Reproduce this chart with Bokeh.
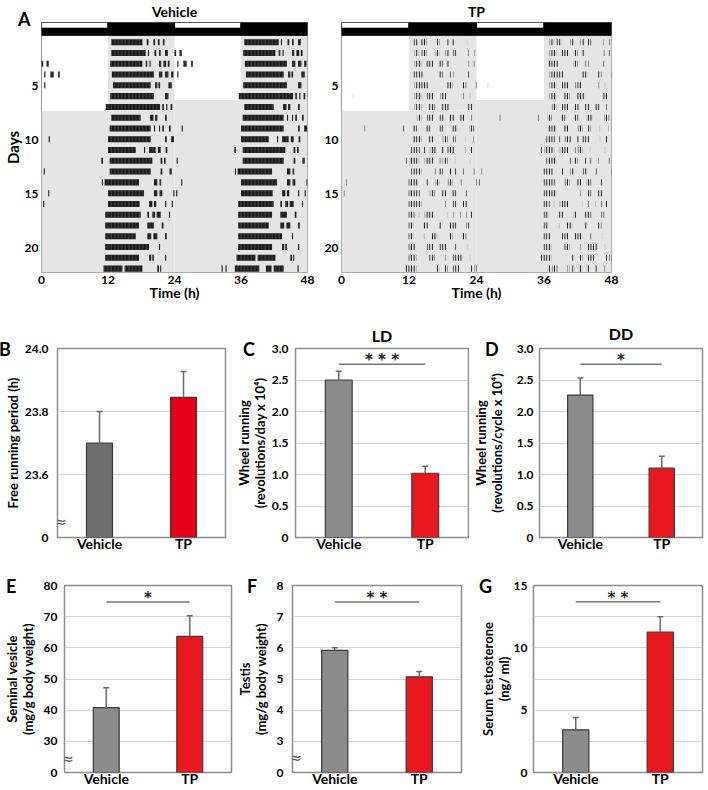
from bokeh.plotting import figure
from bokeh.layouts import row, column
from bokeh.models import (Range1d, FactorRange, FixedTicker, Label, Title,
                          ColumnDataSource, Whisker, TeeHead)
from bokeh.embed import file_html
from bokeh.resources import INLINE

# ---------------------------------------------------------------- data
groups = ["Vehicle", "TP"]

period_mean = [23.70, 23.845]
period_sem = [0.100, 0.082]
ld_mean = [2.50, 1.02]
ld_sem = [0.14, 0.11]
dd_mean = [2.26, 1.10]
dd_sem = [0.27, 0.19]
sv_mean = [40.8, 63.7]
sv_sem = [6.4, 6.6]
testis_mean = [5.92, 5.07]
testis_sem = [0.08, 0.17]
testo_mean = [3.42, 11.27]
testo_sem = [1.00, 1.23]

ld_sig = ("* * *", 2.75)
dd_sig = ("*", 2.75)
sv_sig = ("*", 74.7)
testis_sig = ("* *", 7.47)
testo_sig = ("* *", 13.7)

period_ticks = [23.4, 23.6, 23.8, 24.0]
wheel_ticks = [0, 0.5, 1.0, 1.5, 2.0, 2.5, 3.0]
sv_ticks = [20, 30, 40, 50, 60, 70, 80]
testis_ticks = [2, 3, 4, 5, 6, 7, 8]
testo_ticks = [0, 5, 10, 15]

# actogram: activity bouts (start h, end h) per day, days 1..23
N_ROWS = 22
LD_DAYS = 7
LIGHTS_OFF = 12
day_ticks = [5, 10, 15, 20]
time_ticks = [0, 12, 24, 36, 48]

veh_bouts = [
    [(12.6, 18.2), (19.0, 19.3), (20.2, 20.5), (21.0, 21.3), (21.9, 22.2)],
    [(12.6, 18.8), (19.2, 19.4), (20.4, 20.7), (21.2, 21.5), (22.3, 22.8)],
    [(0.0, 0.3), (0.9, 1.3), (12.4, 18.2), (18.8, 19.1), (19.5, 19.7), (21.2, 21.6), (22.0, 22.5), (22.8, 23.1)],
    [(0.5, 0.7), (1.6, 2.2), (3.0, 3.3), (12.7, 20.3), (21.2, 21.8), (22.3, 22.9), (23.4, 23.8)],
    [(0.5, 0.7), (12.9, 19.7), (20.5, 20.9), (21.1, 21.4), (22.9, 23.5)],
    [(12.4, 20.3), (22.3, 22.9)],
    [(11.6, 21.4), (21.8, 22.1), (22.5, 22.7), (23.3, 23.6)],
    [(12.6, 17.9), (19.6, 20.2), (20.5, 20.9), (22.3, 22.6)],
    [(12.3, 19.7), (20.3, 20.5), (21.2, 21.4), (21.8, 22.1), (23.0, 23.3)],
    [(1.3, 1.5), (12.0, 19.7), (22.3, 22.6), (23.4, 23.9)],
    [(12.0, 17.0), (18.5, 18.7), (19.4, 20.6), (21.0, 21.5), (22.4, 22.7)],
    [(10.8, 11.1), (12.3, 20.0), (21.5, 21.8), (22.1, 22.4)],
    [(0.4, 0.6), (12.3, 19.7), (21.5, 21.8), (23.1, 23.5)],
    [(10.9, 11.1), (11.4, 17.6), (20.3, 20.9), (21.3, 21.6)],
    [(1.2, 1.4), (12.0, 18.5), (20.3, 20.9), (21.3, 21.8), (23.8, 24.0)],
    [(0.3, 0.5), (12.0, 17.7), (19.4, 20.0), (20.3, 20.7), (22.3, 22.5), (23.5, 23.7)],
    [(11.5, 17.9), (19.1, 19.4), (20.0, 20.5), (20.8, 21.5), (23.0, 23.2)],
    [(11.5, 17.6), (19.1, 20.3), (21.7, 22.0)],
    [(11.5, 17.0), (19.1, 19.8), (20.2, 20.9), (22.3, 22.6)],
    [(11.5, 19.4), (21.2, 21.4)],
    [(11.5, 17.6), (19.4, 19.8), (20.0, 20.3), (22.3, 22.5)],
    [(11.2, 14.6), (15.0, 18.2), (20.9, 21.2), (21.4, 21.6)],
    [(8.5, 8.7), (9.2, 9.4), (10.9, 15.3), (16.5, 17.5), (17.9, 19.7), (22.2, 22.4)],
]

tp_bouts = [
    [(12.8, 13.6), (14.0, 15.2), (17.0, 17.5), (18.7, 19.1), (19.5, 20.1), (22.3, 22.5)],
    [(13.0, 13.8), (14.2, 15.2), (16.7, 17.4), (18.5, 19.2), (19.8, 20.4), (22.4, 22.6), (23.6, 23.9)],
    [(13.0, 14.2), (15.0, 16.4), (17.3, 18.0), (18.6, 19.2), (22.6, 22.8), (23.5, 23.7)],
    [(12.8, 14.5), (17.2, 18.0), (19.2, 19.4), (19.9, 20.1), (22.5, 22.7)],
    [(13.0, 15.4), (18.6, 19.8), (21.6, 22.2), (23.8, 24.0)],
    [(2.0, 2.2), (13.0, 14.2), (15.2, 16.3), (17.6, 18.6), (21.7, 21.9), (22.8, 23.0)],
    [(13.0, 14.2), (15.4, 16.6), (17.7, 19.2), (22.4, 23.3)],
    [(13.4, 14.2), (15.2, 16.3), (17.4, 18.3), (19.2, 20.1), (21.0, 21.9), (23.1, 23.3)],
    [(4.1, 4.3), (10.9, 11.1), (12.6, 13.4), (15.0, 15.8), (17.4, 18.1), (19.5, 20.7), (22.7, 23.6)],
    [(12.6, 14.2), (15.4, 16.4), (18.0, 18.9), (19.8, 20.3), (21.8, 22.0), (23.3, 23.5)],
    [(12.4, 13.9), (14.7, 14.9), (15.7, 16.8), (17.7, 18.2), (18.8, 20.1), (21.9, 22.1), (23.0, 23.2)],
    [(11.4, 11.6), (12.1, 13.8), (14.8, 16.3), (17.4, 17.6), (18.0, 18.9), (20.0, 20.2), (22.8, 23.0)],
    [(12.4, 14.2), (16.6, 16.8), (17.3, 18.0), (19.2, 19.5), (20.0, 20.4), (21.5, 21.7), (23.5, 23.7)],
    [(0.9, 1.1), (11.9, 13.6), (15.1, 15.4), (16.7, 17.4), (18.9, 19.8), (21.2, 21.4), (23.9, 24.0)],
    [(0.4, 0.6), (11.9, 13.9), (15.7, 16.6), (17.7, 18.6), (19.5, 20.4), (22.1, 22.3)],
    [(11.9, 14.2), (18.5, 18.7), (19.8, 20.4), (21.6, 22.4)],
    [(11.9, 13.0), (13.6, 13.8), (14.8, 16.3), (18.6, 18.8), (19.9, 20.1), (21.0, 21.2), (22.2, 22.4), (23.0, 23.2)],
    [(11.9, 12.8), (14.5, 15.4), (17.2, 17.7), (19.2, 20.4), (22.2, 22.7)],
    [(11.9, 12.8), (14.5, 14.7), (16.0, 17.0), (19.2, 19.8), (21.6, 22.2)],
    [(11.9, 13.2), (15.2, 16.3), (17.4, 18.6), (20.2, 20.4), (22.3, 22.5)],
    [(11.9, 13.3), (15.6, 16.6), (18.5, 18.7), (19.8, 21.6), (22.8, 23.0)],
    [(11.3, 13.3), (16.9, 17.4), (18.3, 18.9), (19.8, 21.0), (23.0, 23.2), (23.6, 24.0)],
    [(12.6, 13.2), (13.4, 14.4), (16.2, 16.6), (17.0, 17.5), (18.2, 18.8), (19.5, 20.1), (21.0, 21.4), (22.7, 23.0)],
]

# ---------------------------------------------------------------- layout helpers
FONT = "Lato"
EM = 1.2  # title text box height per font px


def make_fig(canvas, frame, **kw):
    cl, ct, cr, cb = canvas
    fl, ft, fr, fb = frame
    p = figure(width=round(cr - cl), height=round(cb - ct),
               min_border_left=round(fl - cl), min_border_right=round(cr - fr),
               min_border_top=round(ft - ct), min_border_bottom=round(cb - fb),
               output_backend="svg", toolbar_location=None, title=None, **kw)
    p.background_fill_color = "white"
    p.border_fill_color = "white"
    return p


def style_axis(ax, tick_size, label_size):
    ax.axis_line_color = None
    ax.major_tick_line_color = None
    ax.minor_tick_line_color = None
    ax.major_tick_out = 0
    ax.major_tick_in = 0
    ax.minor_tick_out = 0
    ax.major_label_text_font = FONT
    ax.major_label_text_font_style = "bold"
    ax.major_label_text_font_size = tick_size
    ax.major_label_text_color = "black"
    ax.axis_label_text_font = FONT
    ax.axis_label_text_font_style = "bold"
    ax.axis_label_text_font_size = label_size
    ax.axis_label_text_color = "black"
    ax.axis_label_text_line_height = 1.0


def add_title(p, text, size, height, align="center", offset=0):
    """Title in the 'above' panel; panel height `height` px, text centred in it."""
    p.add_layout(Title(text=text, align=align, offset=offset, vertical_align="middle",
                       standoff=height - 2 - EM * size, text_font=FONT,
                       text_font_style="bold", text_font_size="%dpx" % size,
                       text_line_height=1.0, text_color="black"), "above")


def add_letter(p, text, dx, dy):
    # dx: centre relative to frame left, dy: centre below frame top (px)
    add_title(p, text, 18, -2 * dy, align="left", offset=dx - 11.5)


# ---------------------------------------------------------------- actograms
def actogram(title, bouts, canvas, frame, show_ylabel, hatch, letter=None):
    top_edge = 0.3 - 1.19
    p = make_fig(canvas, frame, x_range=Range1d(0, 48),
                 y_range=Range1d(N_ROWS + 0.3, top_edge))
    if letter:
        add_letter(p, letter, -12, -4)
        add_title(p, title, 14, 2 * (11 - 8))
    else:
        add_title(p, title, 14, 2 * 11)
    p.xgrid.visible = False
    p.ygrid.visible = False
    p.outline_line_color = "#9a9a9a"
    p.outline_line_width = 1

    # dark-phase shading (LD for the first days, then constant darkness)
    sl = [LIGHTS_OFF, 0, 24 + LIGHTS_OFF, 24]
    sr = [24, 24, 48, 48]
    st = [0.3, LD_DAYS + 0.3, 0.3, LD_DAYS - 1 + 0.3]
    sb = [LD_DAYS + 0.3, N_ROWS + 0.3, LD_DAYS - 1 + 0.3, N_ROWS + 0.3]
    p.quad(left=sl, right=sr, top=st, bottom=sb, fill_color="#e5e5e5", line_color=None)

    # activity, double plotted
    al, ar, at, ab = [], [], [], []
    for d in range(1, N_ROWS + 1):
        for s, e in bouts[d - 1]:
            al.append(s); ar.append(e); at.append(d - 0.34); ab.append(d + 0.22)
        for s, e in bouts[d]:
            al.append(s + 24); ar.append(e + 24); at.append(d - 0.34); ab.append(d + 0.22)
    if hatch:
        p.quad(left=al, right=ar, top=at, bottom=ab, fill_color=None, line_color=None,
               hatch_pattern="|", hatch_color="#111111", hatch_scale=2.6, hatch_weight=1.3)
    else:
        p.quad(left=al, right=ar, top=at, bottom=ab, fill_color="#1a1a1a", line_color=None,
               hatch_pattern="|", hatch_color="#666666", hatch_scale=3.5, hatch_weight=0.6)

    # light/dark bars
    p.quad(left=[0, 24], right=[LIGHTS_OFF, 24 + LIGHTS_OFF], top=[top_edge] * 2,
           bottom=[-0.34] * 2, fill_color="white", line_color="black", line_width=1.2)
    p.quad(left=[LIGHTS_OFF, 24 + LIGHTS_OFF], right=[24, 48], top=[top_edge] * 2,
           bottom=[-0.34] * 2, fill_color="black", line_color="black")
    p.quad(left=[0], right=[48], top=[-0.34], bottom=[0.3], fill_color="black",
           line_color="black")

    p.xaxis.ticker = FixedTicker(ticks=time_ticks)
    p.yaxis.ticker = FixedTicker(ticks=day_ticks)
    style_axis(p.xaxis[0], "12px", "14px")
    style_axis(p.yaxis[0], "12px", "15px")
    p.xaxis.axis_label = "Time (h)"
    p.xaxis.major_label_standoff = 3
    p.xaxis.axis_label_standoff = -3
    p.yaxis.major_label_standoff = 3
    p.yaxis.axis_label_standoff = 0
    if show_ylabel:
        p.yaxis.axis_label = "Days"
    return p


# ---------------------------------------------------------------- bar panels
VEH_DARK = "#6e6e6e"
VEH = "#8b8b8b"
TP_RED = "#e50019"
TP_RED2 = "#e8181e"


def bar_panel(canvas, frame, means, sems, colors, yr, ticks, overrides, grid_ticks,
              ylabel, letter, letter_dx, letter_dy, tick_standoff, label_standoff,
              title=None, sig=None, brk=None):
    p = make_fig(canvas, frame, x_range=FactorRange(*groups),
                 y_range=Range1d(yr[0], yr[1]))
    add_letter(p, letter, letter_dx, letter_dy)
    if title:
        add_title(p, title, 16, 2 * (11.7 + 2 * letter_dy))
    p.outline_line_color = "#8c8c8c"
    p.outline_line_width = 1.5
    p.xgrid.visible = False
    p.ygrid.ticker = FixedTicker(ticks=grid_ticks)
    p.ygrid.grid_line_color = "#d4d4d4"
    p.ygrid.grid_line_width = 1

    p.vbar(x=groups, top=means, bottom=yr[0], width=0.31, fill_color=colors,
           line_color="#3a3a3a", line_width=1.2)
    src = ColumnDataSource(dict(x=groups, lower=means,
                                upper=[m + s for m, s in zip(means, sems)]))
    p.add_layout(Whisker(base="x", lower="lower", upper="upper", source=src,
                         line_color="#6a6a6a", line_width=1.5, lower_head=None,
                         upper_head=TeeHead(size=6, line_color="#6a6a6a", line_width=1.5),
                         level="overlay"))
    if sig:
        p.segment(x0=[groups[0]], y0=[sig[1]], x1=[groups[1]], y1=[sig[1]],
                  line_color="#777777", line_width=1.5)
        p.add_layout(Label(x=1.0, y=sig[1], text=sig[0], text_align="center",
                           text_baseline="middle", y_offset=4, text_font="DejaVu Sans",
                           text_font_style="bold", text_font_size="15px",
                           text_color="#222222"))
    if brk is not None:
        p.add_layout(Label(x=3, y=brk, x_units="screen", text="\u2248",
                           text_align="center", text_baseline="middle",
                           text_font="DejaVu Sans", text_font_size="15px",
                           text_color="#555555"))

    p.yaxis.ticker = FixedTicker(ticks=ticks)
    p.yaxis.major_label_overrides = overrides
    style_axis(p.xaxis[0], "14px", "13px")
    style_axis(p.yaxis[0], "12px", "13px")
    p.xaxis.major_label_standoff = -3
    p.yaxis.major_label_standoff = tick_standoff
    p.yaxis.axis_label_standoff = label_standoff
    p.yaxis.axis_label = ylabel
    return p


# ---------------------------------------------------------------- build
fa1 = actogram("Vehicle", veh_bouts, (0, 0, 321, 305), (37, 18, 307, 272), True, False, "A")
fa2 = actogram("TP", tp_bouts, (321, 0, 625, 305), (339, 18, 611, 272), False, True)

fb = bar_panel((0, 305, 232, 557), (57, 347, 225, 537.5), period_mean, period_sem,
               [VEH_DARK, TP_RED], (23.4, 24.0), period_ticks,
               {23.4: "0", 23.6: "23.6", 23.8: "23.8", 24.0: "24.0"}, [23.6, 23.8],
               "Free running period (h)", "B", -47, 0, 9, 1, brk=23.45)
fc = bar_panel((232, 305, 469, 557), (295, 347.7, 468, 537.7), ld_mean, ld_sem,
               [VEH, TP_RED2], (0, 3.0), wheel_ticks,
               {0: "0", 0.5: "0.5", 1: "1.0", 1.5: "1.5", 2: "2.0", 2.5: "2.5", 3: "3.0"},
               [0.5, 1.0, 1.5, 2.0, 2.5],
               "Wheel running\n(revolutions/day x 10\u2074)", "C", -41, 1, 7, 1,
               title="LD", sig=ld_sig)
fd = bar_panel((469, 305, 706, 557), (533, 347.7, 702, 537.7), dd_mean, dd_sem,
               [VEH, TP_RED2], (0, 3.0), wheel_ticks,
               {0: "0", 0.5: "0.5", 1: "1.0", 1.5: "1.5", 2: "2.0", 2.5: "2.5", 3: "3.0"},
               [0.5, 1.0, 1.5, 2.0, 2.5],
               "Wheel running\n(revolutions/cycle x 10\u2074)", "D", -43, 2, 6, 9,
               title="DD", sig=dd_sig)
fe = bar_panel((0, 557, 233, 789), (57, 585, 231, 775), sv_mean, sv_sem,
               [VEH, TP_RED2], (20, 80), sv_ticks, {20: "0"}, [30, 40, 50, 60, 70],
               "Seminal vesicle\n(mg/g body weight)", "E", -47, 3, 7, 5,
               sig=sv_sig, brk=24.2)
ff = bar_panel((233, 557, 469, 789), (287, 585, 461, 775), testis_mean, testis_sem,
               [VEH, TP_RED2], (2, 8), testis_ticks, {2: "0"}, [3, 4, 5, 6, 7],
               "Testis\n(mg/g body weight)", "F", -34, 3, 9, 5,
               sig=testis_sig, brk=2.47)
fg = bar_panel((469, 557, 706, 789), (533, 585, 702, 775), testo_mean, testo_sem,
               [VEH, TP_RED2], (0, 15), testo_ticks, {}, [2.5, 5, 7.5, 10, 12.5],
               "Serum testosterone\n(ng/ ml)", "G", -43, 3, 6, -1, sig=testo_sig)

layout = column(row(fa1, fa2), row(fb, fc, fd), row(fe, ff, fg))
open("out.html", "w").write(file_html(layout, INLINE))
